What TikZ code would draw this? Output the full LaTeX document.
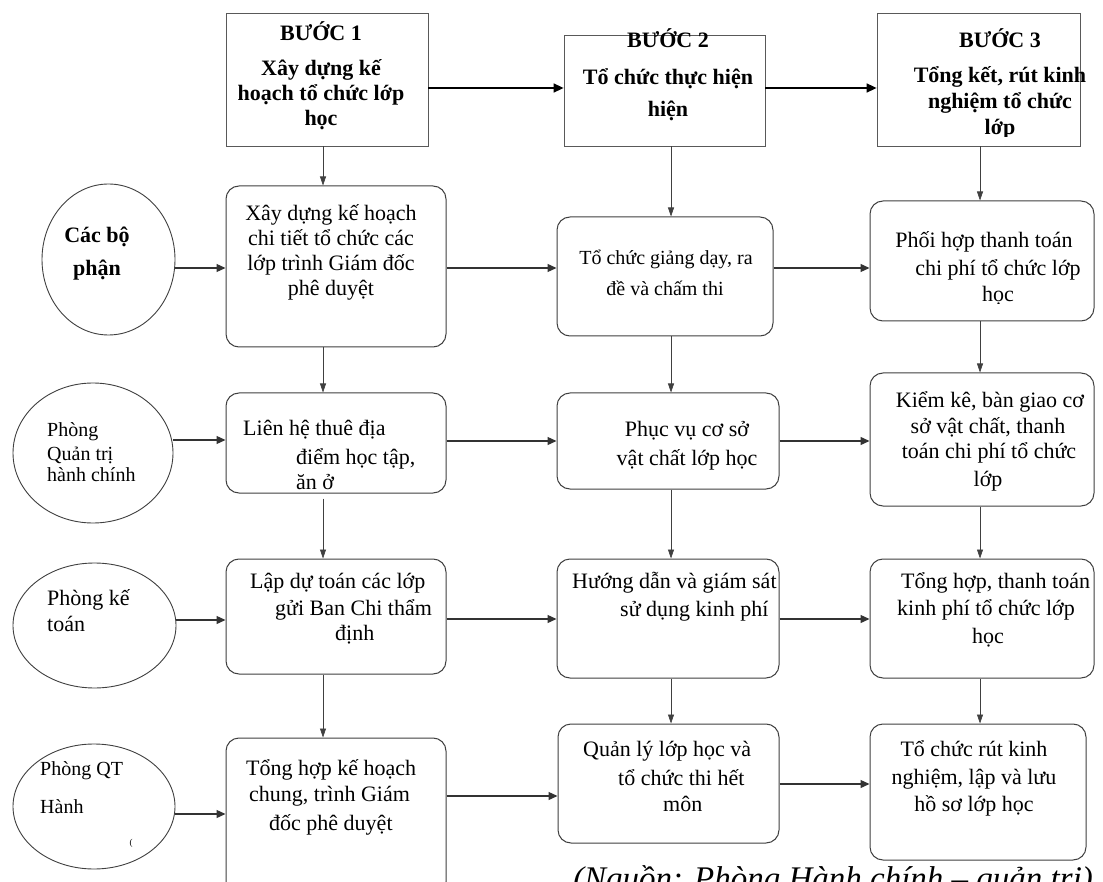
\documentclass[tikz,border=0pt]{standalone}
\usepackage{fontspec}
\setmainfont{Liberation Serif}
\usetikzlibrary{shapes.geometric,arrows.meta}
\begin{document}
\begin{tikzpicture}[x=1pt,y=-1pt,
  stepbox/.style={draw=black!65,line width=0.8pt,rectangle,inner sep=0pt},
  rbox/.style={draw=black!75,line width=1pt,rectangle,rounded corners=13pt,inner sep=0pt},
  oval/.style={draw=black!75,line width=0.9pt,ellipse,inner sep=0pt},
  harr/.style={draw=black!80,line width=1.3pt,-{Triangle[length=9pt,width=8pt]}},
  varr/.style={draw=black!75,line width=0.7pt,-{Triangle[length=9pt,width=6pt]}},
  sarr/.style={draw=black,line width=1.5pt,-{Triangle[length=10pt,width=9pt]}},
  hd/.style={font=\fontsize{22}{26}\selectfont\bfseries,inner sep=0pt,anchor=base},
  tx/.style={font=\fontsize{22}{26}\selectfont,inner sep=0pt},
  ts/.style={font=\fontsize{20}{24}\selectfont,inner sep=0pt},
  tm/.style={font=\fontsize{20}{24}\selectfont,inner sep=0pt},
  tb/.style={font=\fontsize{22}{26}\selectfont\bfseries,inner sep=0pt},
]
\fill[white] (0,0) rectangle (1103,882);
\useasboundingbox (0,0) rectangle (1103,882);

% ---------- step boxes ----------
\node[stepbox,minimum width=202,minimum height=133] (s1) at (327,79.5) {};
\node[stepbox,minimum width=201,minimum height=111] (s2) at (664.5,90.5) {};
\node[stepbox,minimum width=203,minimum height=133] (s3) at (978.5,79.5) {};

% ---------- rounded boxes ----------
\node[rbox,minimum width=220,minimum height=161] (b11) at (336,266.5) {};
\node[rbox,minimum width=216,minimum height=119] (b12) at (665,276.5) {};
\node[rbox,minimum width=224,minimum height=120] (b13) at (982,261) {};
\node[rbox,minimum width=220,minimum height=100] (b21) at (336,443) {};
\node[rbox,minimum width=222,minimum height=96] (b22) at (668,441) {};
\node[rbox,minimum width=224,minimum height=133] (b23) at (982,439.5) {};
\node[rbox,minimum width=220,minimum height=115] (b31) at (336,616.5) {};
\node[rbox,minimum width=222,minimum height=119] (b32) at (668,618.5) {};
\node[rbox,minimum width=224,minimum height=119] (b33) at (982,618.5) {};
\node[rbox,minimum width=220,minimum height=157] (b41) at (336,816.5) {};
\node[rbox,minimum width=221,minimum height=119] (b42) at (668.5,783.5) {};
\node[rbox,minimum width=216,minimum height=136] (b43) at (978,792) {};

% ---------- ellipses ----------
\node[oval,minimum width=133,minimum height=151] (e1) at (108.5,259.5) {};
\node[oval,minimum width=160,minimum height=140] (e2) at (93,453) {};
\node[oval,minimum width=163,minimum height=125] (e3) at (94.5,625.5) {};
\node[oval,minimum width=162,minimum height=125] (e4) at (94,806.5) {};

% ---------- step texts ----------
\node[hd] (h1a) at (321,41) {BƯỚC 1};
\node[hd] (h1b) at (321,76) {Xây dựng kế};
\node[hd] (h1c) at (321,101) {hoạch tổ chức lớp};
\node[hd] (h1d) at (321,126) {học};
\node[hd] (h2a) at (668,48) {BƯỚC 2};
\node[hd] (h2b) at (668,85) {Tổ chức thực hiện};
\node[hd] (h2c) at (668,117) {hiện};
\node[hd] (h3a) at (1000,48) {BƯỚC 3};
\node[hd] (h3b) at (1000,83) {Tổng kết, rút kinh};
\node[hd] (h3c) at (1000,109) {nghiệm tổ chức};
\begin{scope}
\clip (877,13) rectangle (1080,137);
\node[hd] (h3d) at (1000,135) {lớp};
\end{scope}

% ---------- row 1 ----------
\node[tb,anchor=mid] (t01a) at (97,240) {Các bộ};
\node[tb,anchor=mid] (t01b) at (97,273) {phận};
\node[tx,anchor=mid] (t11a) at (331,218) {Xây dựng kế hoạch};
\node[tx,anchor=mid] (t11b) at (331,243) {chi tiết tổ chức các};
\node[tx,anchor=mid] (t11c) at (331,268) {lớp trình Giám đốc};
\node[tx,anchor=mid] (t11d) at (331,293) {phê duyệt};
\node[ts,anchor=mid] (t12a) at (666,262) {Tổ chức giảng dạy, ra};
\node[ts,anchor=mid] (t12b) at (665,293) {đề và chấm thi};
\node[tx,anchor=mid] (t13a) at (984,245) {Phối hợp thanh toán};
\node[tx,anchor=mid] (t13b) at (998,273) {chi phí tổ chức lớp};
\begin{scope}
\clip (870,201) rectangle (1094,304);
\node[tx,anchor=mid] (t13c) at (998,299) {học};
\end{scope}

% ---------- row 2 ----------
\node[tm,anchor=mid west] (t02a) at (47,434) {Phòng};
\node[tm,anchor=mid west] (t02b) at (47,458) {Quản trị};
\node[tm,anchor=mid west] (t02c) at (47,479) {hành chính};
\node[tx,anchor=mid west] (t21a) at (243,433) {Liên hệ thuê địa};
\node[tx,anchor=mid west] (t21b) at (296,462) {điểm học tập,};
\begin{scope}
\clip (226,393) rectangle (446,494);
\node[tx,anchor=mid west] (t21c) at (296,487) {ăn ở};
\end{scope}
\node[tx,anchor=mid] (t22a) at (687,434) {Phục vụ cơ sở};
\node[tx,anchor=mid] (t22b) at (687,463) {vật chất lớp học};
\node[tx,anchor=mid] (t23a) at (990,405) {Kiểm kê, bàn giao cơ};
\node[tx,anchor=mid] (t23b) at (988,431) {sở vật chất, thanh};
\node[tx,anchor=mid] (t23c) at (989,456) {toán chi phí tổ chức};
\node[tx,anchor=mid] (t23d) at (988,484) {lớp};

% ---------- row 3 ----------
\node[tx,anchor=mid west] (t03a) at (47,603) {Phòng kế};
\node[tx,anchor=mid west] (t03b) at (47,629) {toán};
\node[tx,anchor=mid west] (t31a) at (250,586) {Lập dự toán các lớp};
\node[tx,anchor=mid west] (t31b) at (275,613) {gửi Ban Chi thẩm};
\node[tx,anchor=mid west] (t31c) at (335,638) {định};
\node[tx,anchor=mid west] (t32a) at (572,586) {Hướng dẫn và giám sát};
\node[tx,anchor=mid west] (t32b) at (620,614) {sử dụng kinh phí};
\node[tx,anchor=mid west] (t33a) at (901,586) {Tổng hợp, thanh toán};
\node[tx,anchor=mid west] (t33b) at (897,613) {kinh phí tổ chức lớp};
\node[tx,anchor=mid] (t33c) at (988,641) {học};

% ---------- row 4 ----------
\node[tm,anchor=mid west] (t04a) at (40,773) {Phòng QT};
\node[tm,anchor=mid west] (t04b) at (40,811) {Hành};
\node[font=\fontsize{9}{9}\selectfont,inner sep=0pt] (t04c) at (131,843) {(};
\node[tx,anchor=mid west] (t41a) at (246,773) {Tổng hợp kế hoạch};
\node[tx,anchor=mid west] (t41b) at (249,799) {chung, trình Giám};
\node[tx,anchor=mid west] (t41c) at (269,828) {đốc phê duyệt};
\node[tx,anchor=mid west] (t42a) at (583,754) {Quản lý lớp học và};
\node[tx,anchor=mid west] (t42b) at (618,783) {tổ chức thi hết};
\node[tx,anchor=mid west] (t42c) at (663,809) {môn};
\node[tx,anchor=mid] (t43a) at (974,754) {Tổ chức rút kinh};
\node[tx,anchor=mid] (t43b) at (974,782) {nghiệm, lập và lưu};
\node[tx,anchor=mid] (t43c) at (974,809) {hồ sơ lớp học};

% ---------- caption ----------
\node[font=\fontsize{33}{37}\selectfont\itshape,inner sep=0pt,anchor=base west] (src) at (573,889) {(Nguồn: Phòng Hành chính – quản trị)};

% ---------- connectors: steps ----------
\draw[sarr] (s1.east |- 0,88) -- (s2.west |- 0,88);
\draw[sarr] (s2.east |- 0,88) -- (s3.west |- 0,88);

% ---------- vertical ----------
\draw[varr] (s1.south -| 323,0) -- (b11.north -| 323,0);
\draw[varr] (b11.south -| 323,0) -- (b21.north -| 323,0);
\draw[varr,shorten <=5pt] (b21.south -| 323,0) -- (b31.north -| 323,0);
\draw[varr] (b31.south -| 323,0) -- (b41.north -| 323,0);
\draw[varr] (s2.south -| 671,0) -- (b12.north -| 671,0);
\draw[varr] (b12.south -| 671,0) -- (b22.north -| 671,0);
\draw[varr] (b22.south -| 671,0) -- (b32.north -| 671,0);
\draw[varr] (b32.south -| 671,0) -- (b42.north -| 671,0);
\draw[varr] (s3.south -| 980,0) -- (b13.north -| 980,0);
\draw[varr] (b13.south -| 980,0) -- (b23.north -| 980,0);
\draw[varr] (b23.south -| 980,0) -- (b33.north -| 980,0);
\draw[varr] (b33.south -| 980,0) -- (b43.north -| 980,0);

% ---------- horizontal ----------
\draw[harr] (e1.east |- 0,268) -- (b11.west |- 0,268);
\draw[harr] (b11.east |- 0,268) -- (b12.west |- 0,268);
\draw[harr] (b12.east |- 0,268) -- (b13.west |- 0,268);
\draw[harr] (e2.east |- 0,440) -- (b21.west |- 0,440);
\draw[harr] (b21.east |- 0,441) -- (b22.west |- 0,441);
\draw[harr] (b22.east |- 0,441) -- (b23.west |- 0,441);
\draw[harr] (e3.east |- 0,620) -- (b31.west |- 0,620);
\draw[harr] (b31.east |- 0,619) -- (b32.west |- 0,619);
\draw[harr] (b32.east |- 0,619) -- (b33.west |- 0,619);
\draw[harr] (e4.east |- 0,814) -- (b41.west |- 0,814);
\draw[harr] (b41.east |- 0,796) -- (b42.west |- 0,796);
\draw[harr] (b42.east |- 0,784) -- (b43.west |- 0,784);
\end{tikzpicture}
\end{document}
